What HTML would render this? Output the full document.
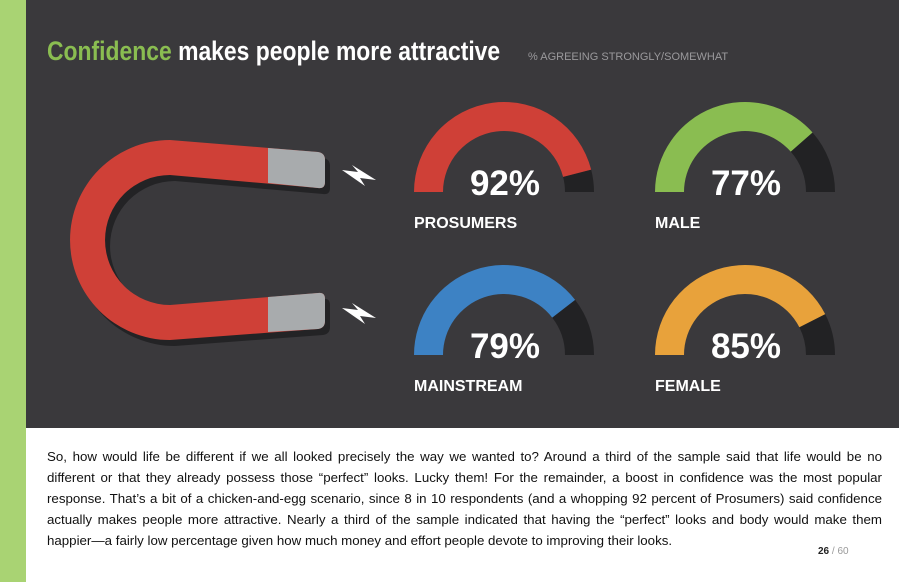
<!DOCTYPE html>
<html><head><meta charset="utf-8">
<style>
html,body{margin:0;padding:0;}
body{width:899px;height:582px;position:relative;overflow:hidden;background:#fff;font-family:"Liberation Sans",sans-serif;}
#stripe{position:absolute;left:0;top:0;width:26px;height:582px;background:#a9d373;}
#panel{position:absolute;left:26px;top:0;width:873px;height:428px;background:#3a393c;}
#title{position:absolute;left:47px;top:36px;font-size:27px;font-weight:bold;color:#fff;white-space:nowrap;transform-origin:0 0;}
#title .g{color:#8abd51;}
#sub{position:absolute;left:528px;top:51px;font-size:11px;color:#9a999c;white-space:nowrap;}
#para{position:absolute;left:47px;top:446px;width:835px;font-size:13.3px;line-height:21px;color:#111;}
#para .l{text-align:justify;text-align-last:justify;white-space:nowrap;}
#para .l.last{text-align-last:left;}
#pg{position:absolute;left:818px;top:546px;font-size:10px;color:#999;}
#pg b{color:#222;}
svg{position:absolute;left:0;top:0;}
</style></head><body>
<div id="stripe"></div>
<div id="panel"></div>
<div id="title"><span class="g">Confidence</span> makes people more attractive</div>
<div id="sub">% AGREEING STRONGLY/SOMEWHAT</div>
<svg width="899" height="582">
  <g>
    <path fill="#232325" transform="translate(5,6)"
      d="M170,140 L318,152 Q325,153 325,160 L325,182 Q325,189 318,188 L170,175 A65,65 0 0 0 170,305 L318,293 Q325,292 325,299 L325,321 Q325,328 318,329 L170,340 A100,100 0 0 1 170,140 Z"/>
    <path fill="#cf4037"
      d="M170,140 L318,152 Q325,153 325,160 L325,182 Q325,189 318,188 L170,175 A65,65 0 0 0 170,305 L318,293 Q325,292 325,299 L325,321 Q325,328 318,329 L170,340 A100,100 0 0 1 170,140 Z"/>
    <path fill="#a8abad" d="M268,148 L318,152 Q325,153 325,160 L325,182 Q325,189 318,188 L268,183 Z"/>
    <path fill="#a8abad" d="M268,297 L318,293 Q325,292 325,299 L325,321 Q325,328 318,329 L268,332 Z"/>
    <path fill="#fff" d="M342,170 L358,172 L352,165 L376,180 L360,178 L365,186 Z"/>
    <path fill="#fff" d="M342,308 L358,310 L352,303 L376,318 L360,316 L365,324 Z"/>
  </g>
  <g id="gauges"></g>
</svg>
<div id="para">
<div class="l">So, how would life be different if we all looked precisely the way we wanted to? Around a third of the sample said that life would be no</div>
<div class="l">different or that they already possess those “perfect” looks. Lucky them! For the remainder, a boost in confidence was the most popular</div>
<div class="l">response. That’s a bit of a chicken-and-egg scenario, since 8 in 10 respondents (and a whopping 92 percent of Prosumers) said confidence</div>
<div class="l">actually makes people more attractive. Nearly a third of the sample indicated that having the “perfect” looks and body would make them</div>
<div class="l last">happier—a fairly low percentage given how much money and effort people devote to improving their looks.</div>
</div>
<div id="pg"><b>26</b> / 60</div>
<script>
const categories = ["PROSUMERS", "MALE", "MAINSTREAM", "FEMALE"];
const values = [92, 77, 79, 85];
const colors = ["#cf4037", "#8abd51", "#3d82c4", "#e8a23b"];
const slots = [[504,192],[745,192],[504,355],[745,355]];
const R = 90, r = 61;
const NS = "http://www.w3.org/2000/svg";
const g = document.getElementById('gauges');
const title = document.getElementById('title');
title.style.transform = 'scaleX(' + (453 / title.offsetWidth) + ')';
function pt(cx, cy, rad, frac){ const a = Math.PI*(1-frac); return [cx+rad*Math.cos(a), cy-rad*Math.sin(a)]; }
function arc(cx, cy, f0, f1){
  const a=pt(cx,cy,R,f0), b=pt(cx,cy,R,f1), c=pt(cx,cy,r,f1), d=pt(cx,cy,r,f0);
  return `M${a[0]},${a[1]} A${R},${R} 0 0 1 ${b[0]},${b[1]} L${c[0]},${c[1]} A${r},${r} 0 0 0 ${d[0]},${d[1]} Z`;
}
categories.forEach((cat,i)=>{
  const [cx,cy] = slots[i];
  const f = values[i]/100;
  const track = document.createElementNS(NS,'path');
  track.setAttribute('d', arc(cx,cy,f,1));
  track.setAttribute('fill','#222224');
  
  
  g.appendChild(track);
  const fill = document.createElementNS(NS,'path');
  fill.setAttribute('d', arc(cx,cy,0,f));
  fill.setAttribute('fill',colors[i]);
  
  
  g.appendChild(fill);
  const t = document.createElementNS(NS,'text');
  t.setAttribute('x', cx+1); t.setAttribute('y', cy+3);
  t.setAttribute('text-anchor','middle');
  t.setAttribute('font-size','35'); t.setAttribute('font-weight','bold');
  t.setAttribute('fill','#fff'); t.setAttribute('font-family','Liberation Sans, sans-serif');
  t.textContent = values[i] + '%';
  
  
  g.appendChild(t);
  const l = document.createElementNS(NS,'text');
  l.setAttribute('x', cx-90); l.setAttribute('y', cy+36);
  l.setAttribute('font-size','16'); l.setAttribute('font-weight','bold');
  l.setAttribute('fill','#fff'); l.setAttribute('font-family','Liberation Sans, sans-serif');
  l.textContent = cat;
  
  
  g.appendChild(l);
});
</script>
</body></html>
